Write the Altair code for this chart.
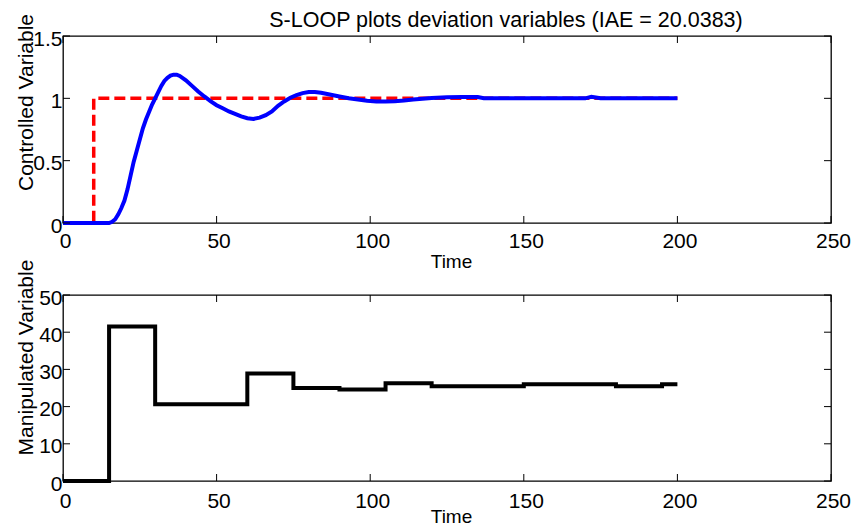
import altair as alt
import pandas as pd

# ---------------- data ----------------
t_cv = [0, 15, 16, 17, 18, 19, 20, 21, 22, 23, 24, 25, 26, 27, 28, 29, 30, 31, 32, 33, 34, 35,
        36, 37, 38, 40, 42, 44, 46, 48, 50, 52, 54, 56, 58, 60, 62, 64, 66, 68, 70, 72, 74, 76,
        78, 80, 82, 84, 86, 88, 90, 93, 96, 99, 102, 105, 108, 111, 114, 117, 120, 125, 130,
        135, 137, 140, 150, 160, 170, 172, 175, 180, 190, 200]
cv = [0, 0, 0.01, 0.03, 0.07, 0.12, 0.18, 0.27, 0.38, 0.49, 0.58, 0.67, 0.76, 0.83, 0.89, 0.95,
      1.0, 1.05, 1.1, 1.14, 1.165, 1.182, 1.19, 1.19, 1.18, 1.145, 1.1, 1.055, 1.015, 0.978,
      0.945, 0.92, 0.895, 0.875, 0.855, 0.84, 0.835, 0.845, 0.865, 0.895, 0.94, 0.975, 1.005,
      1.025, 1.042, 1.05, 1.05, 1.045, 1.035, 1.025, 1.015, 1.0, 0.99, 0.98, 0.975, 0.975,
      0.977, 0.982, 0.99, 0.997, 1.003, 1.008, 1.01, 1.01, 1.0, 1.0, 1.0, 1.0, 1.0, 1.012,
      1.0, 1.0, 1.0, 1.0]

t_sp = [0, 10, 10, 200]
sp = [0, 0, 1, 1]

t_mv = [0, 15, 30, 60, 75, 90, 105, 120, 150, 180, 195, 200]
mv = [0, 41.5, 20.6, 28.9, 25.0, 24.6, 26.3, 25.5, 26.0, 25.5, 26.0, 26.0]

x_ticks = [0, 50, 100, 150, 200, 250]
cv_ticks = [0, 0.5, 1, 1.5]
mv_ticks = [0, 10, 20, 30, 40, 50]

title_text = "S-LOOP plots deviation variables (IAE = 20.0383)"

# ---------------- layout / style ----------------
W, H1, H2 = 768, 187, 186
TL = 7
FONT = "Liberation Sans"

df_cv = pd.DataFrame({"t": t_cv, "v": cv})
df_sp = pd.DataFrame({"t": t_sp, "v": sp})
df_mv = pd.DataFrame({"t": t_mv, "v": mv})
df_xt = pd.DataFrame({"t": x_ticks})
df_cvt = pd.DataFrame({"v": cv_ticks})
df_mvt = pd.DataFrame({"v": mv_ticks})

xscale = alt.Scale(domain=[0, 250], nice=False, zero=False)


def x_axis(title_y, label_pad):
    return alt.Axis(values=x_ticks, title="Time", grid=False, ticks=False, domain=False,
                    labelPadding=label_pad, labelFontSize=21, labelOffset=2, labelFlush=False,
                    labelOverlap=False, labelColor="black", labelFont=FONT,
                    titleFontSize=19, titleFontWeight="normal", titleFont=FONT, titleColor="black",
                    titleX=388, titleY=title_y, titleBaseline="alphabetic", titleAlign="center")


def y_axis(values, title, title_y, fmt):
    return alt.Axis(values=values, format=fmt, title=title, grid=False, ticks=False, domain=False,
                    labelPadding=1, labelFontSize=21, labelBaseline="middle", labelOffset=3,
                    labelFlush=False, labelOverlap=False, labelSeparation=0,
                    labelColor="black", labelFont=FONT,
                    titleAngle=270, titleX=-31, titleY=title_y, titleAlign="center",
                    titleBaseline="alphabetic", titleFontSize=21, titleFontWeight="normal",
                    titleFont=FONT, titleColor="black")


def tick_layers(df_yt, yscale, h, xax, yax):
    top = alt.Chart(df_xt).mark_rule(color="black", strokeWidth=1).encode(
        x=alt.X("t:Q", scale=xscale, axis=xax), y=alt.value(0), y2=alt.value(TL))
    bot = alt.Chart(df_xt).mark_rule(color="black", strokeWidth=1).encode(
        x=alt.X("t:Q", scale=xscale, axis=xax), y=alt.value(h - TL), y2=alt.value(h))
    left = alt.Chart(df_yt).mark_rule(color="black", strokeWidth=1).encode(
        y=alt.Y("v:Q", scale=yscale, axis=yax), x=alt.value(0), x2=alt.value(TL))
    right = alt.Chart(df_yt).mark_rule(color="black", strokeWidth=1).encode(
        y=alt.Y("v:Q", scale=yscale, axis=yax), x=alt.value(W - TL), x2=alt.value(W))
    return [top, bot, left, right]


ys_cv = alt.Scale(domain=[0, 1.5], nice=False, zero=False)
ys_mv = alt.Scale(domain=[0, 50], nice=False, zero=False)

xa_top = x_axis(44, 7)
ya_top = y_axis(cv_ticks, "Controlled Variable", 66, "~g")
xa_bot = x_axis(41, 9)
ya_bot = y_axis(mv_ticks, "Manipulated Variable", 62, "d")

sp_line = alt.Chart(df_sp).mark_line(color="#ff0000", strokeWidth=3.5, strokeDash=[11, 5]).encode(
    x=alt.X("t:Q", scale=xscale, axis=xa_top),
    y=alt.Y("v:Q", scale=ys_cv, axis=ya_top),
    order=alt.Order("idx:Q"),
).transform_window(idx="row_number()")

cv_line = alt.Chart(df_cv).mark_line(color="#0000ff", strokeWidth=4).encode(
    x=alt.X("t:Q", scale=xscale, axis=xa_top),
    y=alt.Y("v:Q", scale=ys_cv, axis=ya_top),
)

top = alt.layer(sp_line, cv_line, *tick_layers(df_cvt, ys_cv, H1, xa_top, ya_top)).properties(
    width=W, height=H1,
    title=alt.TitleParams(text=title_text, fontSize=21.5, fontWeight="normal", font=FONT,
                          color="black", anchor="middle", dx=59, dy=41, offset=6,
                          baseline="alphabetic", frame="group"),
)

mv_line = alt.Chart(df_mv).mark_line(color="black", strokeWidth=4, interpolate="step-after").encode(
    x=alt.X("t:Q", scale=xscale, axis=xa_bot),
    y=alt.Y("v:Q", scale=ys_mv, axis=ya_bot),
)

bottom = alt.layer(mv_line, *tick_layers(df_mvt, ys_mv, H2, xa_bot, ya_bot)).properties(
    width=W, height=H2)

chart = alt.vconcat(top, bottom, spacing=72, bounds="flush").properties(
    padding={"left": 14, "top": 9, "right": 0, "bottom": 0},
    background="white",
).configure_view(stroke="black", strokeWidth=1.3).configure_axis(labelOverlap=False)

chart.save("out.html", embed_options={"renderer": "svg", "actions": False})
